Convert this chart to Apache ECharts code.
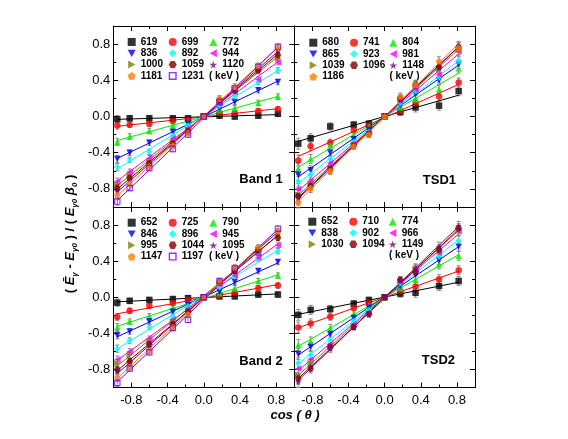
<!DOCTYPE html>
<html>
<head>
<meta charset="utf-8">
<script src="https://cdn.jsdelivr.net/npm/echarts@6/dist/echarts.min.js"></script>
<style>
html, body { margin: 0; padding: 0; background: #fff; }
#chart { width: 568px; height: 439px; }
</style>
</head>
<body>
<div id="chart"></div>
<script>
// ========== 数据 ==========
const cosTheta = [-0.956, -0.819, -0.602, -0.342, -0.174, 0, 0.174, 0.342, 0.602, 0.819];
const bandErr = [0.04, 0.03, 0.03, 0.03, 0.03, 0.02, 0.03, 0.03, 0.03, 0.03];
const tsdErr = [0.06, 0.05, 0.04, 0.03, 0.03, 0.02, 0.04, 0.05, 0.05, 0.05];

const band1Names = ['619', '699', '772', '836', '892', '944', '1000', '1059', '1120', '1181', '1231'];
const band1Y = [
    [-0.03, -0.02, -0.02, -0.02, -0.02, 0.0, 0.01, 0.0, 0.01, 0.03],
    [-0.10, -0.09, -0.08, -0.05, -0.04, 0.0, 0.04, 0.04, 0.06, 0.08],
    [-0.28, -0.22, -0.16, -0.10, -0.06, 0.0, 0.07, 0.09, 0.15, 0.22],
    [-0.47, -0.40, -0.29, -0.17, -0.08, 0.0, 0.09, 0.16, 0.29, 0.38],
    [-0.56, -0.48, -0.39, -0.21, -0.10, 0.0, 0.12, 0.22, 0.38, 0.51],
    [-0.72, -0.61, -0.46, -0.24, -0.13, 0.0, 0.15, 0.27, 0.41, 0.60],
    [-0.75, -0.65, -0.50, -0.28, -0.15, 0.0, 0.16, 0.30, 0.50, 0.64],
    [-0.79, -0.68, -0.52, -0.30, -0.16, 0.0, 0.18, 0.29, 0.51, 0.68],
    [-0.82, -0.70, -0.54, -0.31, -0.17, 0.0, 0.17, 0.31, 0.53, 0.72],
    [-0.87, -0.74, -0.55, -0.32, -0.18, 0.0, 0.20, 0.33, 0.56, 0.76],
    [-0.94, -0.79, -0.57, -0.36, -0.20, 0.0, 0.16, 0.31, 0.55, 0.77]
];

const tsd1Names = ['680', '741', '804', '865', '923', '981', '1039', '1096', '1148', '1186'];
const tsd1Y = [
    [-0.30, -0.24, -0.11, -0.09, -0.08, 0.0, 0.05, 0.10, 0.12, 0.28],
    [-0.485, -0.33, -0.29, -0.15, -0.10, 0.0, 0.06, 0.15, 0.22, 0.375],
    [-0.58, -0.47, -0.32, -0.20, -0.11, 0.0, 0.10, 0.19, 0.30, 0.53],
    [-0.645, -0.595, -0.40, -0.25, -0.15, 0.0, 0.13, 0.25, 0.40, 0.58],
    [-0.72, -0.645, -0.47, -0.28, -0.17, 0.0, 0.15, 0.28, 0.43, 0.61],
    [-0.80, -0.72, -0.515, -0.30, -0.18, 0.0, 0.17, 0.30, 0.46, 0.72],
    [-0.865, -0.74, -0.57, -0.31, -0.19, 0.0, 0.19, 0.34, 0.52, 0.735],
    [-0.88, -0.77, -0.58, -0.32, -0.19, 0.0, 0.20, 0.35, 0.55, 0.765],
    [-0.90, -0.76, -0.59, -0.33, -0.20, 0.0, 0.18, 0.33, 0.54, 0.78],
    [-0.95, -0.79, -0.60, -0.33, -0.20, 0.0, 0.22, 0.35, 0.61, 0.76]
];

const band2Names = ['652', '725', '790', '846', '896', '945', '995', '1044', '1095', '1147', '1197'];
const band2Y = [
    [-0.06, -0.04, -0.03, -0.02, -0.01, 0.0, 0.01, 0.01, 0.03, 0.03],
    [-0.22, -0.15, -0.095, -0.065, -0.03, 0.0, 0.02, 0.05, 0.10, 0.13],
    [-0.33, -0.27, -0.21, -0.12, -0.08, 0.0, 0.045, 0.10, 0.18, 0.24],
    [-0.42, -0.38, -0.27, -0.16, -0.09, 0.0, 0.06, 0.17, 0.29, 0.39],
    [-0.57, -0.48, -0.33, -0.21, -0.10, 0.0, 0.11, 0.23, 0.43, 0.51],
    [-0.69, -0.60, -0.46, -0.25, -0.13, 0.0, 0.14, 0.24, 0.44, 0.58],
    [-0.73, -0.64, -0.49, -0.27, -0.15, 0.0, 0.16, 0.30, 0.53, 0.69],
    [-0.80, -0.71, -0.52, -0.30, -0.16, 0.0, 0.16, 0.29, 0.52, 0.66],
    [-0.82, -0.73, -0.55, -0.31, -0.18, 0.0, 0.17, 0.31, 0.55, 0.71],
    [-0.89, -0.77, -0.59, -0.33, -0.19, 0.0, 0.17, 0.33, 0.55, 0.73],
    [-0.95, -0.79, -0.61, -0.34, -0.25, 0.0, 0.18, 0.32, 0.50, 0.76]
];

const tsd2Names = ['652', '710', '774', '838', '902', '966', '1030', '1094', '1149'];
const tsd2Y = [
    [-0.195, -0.14, -0.13, -0.07, -0.03, 0.0, 0.04, 0.05, 0.125, 0.18],
    [-0.335, -0.29, -0.215, -0.12, -0.065, 0.0, 0.07, 0.12, 0.20, 0.30],
    [-0.53, -0.49, -0.34, -0.18, -0.09, 0.0, 0.10, 0.19, 0.365, 0.46],
    [-0.63, -0.55, -0.41, -0.23, -0.115, 0.0, 0.125, 0.25, 0.41, 0.56],
    [-0.73, -0.64, -0.47, -0.26, -0.14, 0.0, 0.155, 0.29, 0.45, 0.63],
    [-0.79, -0.69, -0.52, -0.30, -0.17, 0.0, 0.17, 0.30, 0.49, 0.73],
    [-0.86, -0.73, -0.55, -0.32, -0.18, 0.0, 0.18, 0.31, 0.525, 0.75],
    [-0.90, -0.79, -0.55, -0.33, -0.185, 0.0, 0.19, 0.285, 0.53, 0.765],
    [-0.94, -0.77, -0.57, -0.33, -0.19, 0.0, 0.19, 0.32, 0.56, 0.79]
];

const majorTicks = [-0.8, -0.4, 0, 0.4, 0.8];
const minorTicks = [-0.6, -0.2, 0.2, 0.6];

// ========== 样式 ==========
const FONT = 'Liberation Sans, Arial, sans-serif';
const STAR = 'path://M50,0 L61,35 L98,35 L68,57 L79,91 L50,70 L21,91 L32,57 L2,35 L39,35 Z';
const PENT = 'path://M50,0 L98,36 L80,95 L20,95 L2,36 Z';
const HEX = 'path://M25,4 L75,4 L100,50 L75,96 L25,96 L0,50 Z';
const TRI_DOWN = 'path://M0,0 L100,0 L50,90 Z';
const TRI_LEFT = 'path://M0,50 L90,0 L90,100 Z';
const TRI_RIGHT = 'path://M0,0 L90,50 L0,100 Z';
const OPEN_SQ = 'path://M0,0 L100,0 L100,100 L0,100 Z M18,18 L18,82 L82,82 L82,18 Z';
const MARKERS = [
    { symbol: 'rect', color: '#000000' },
    { symbol: 'circle', color: '#FF0000' },
    { symbol: 'triangle', color: '#00F000' },
    { symbol: TRI_DOWN, color: '#0000FF' },
    { symbol: 'diamond', color: '#00FFFF' },
    { symbol: TRI_LEFT, color: '#FF00FF' },
    { symbol: TRI_RIGHT, color: '#808000' },
    { symbol: HEX, color: '#800000' },
    { symbol: STAR, color: '#800080' },
    { symbol: PENT, color: '#FF8000' },
    { symbol: OPEN_SQ, color: '#8000FF' }
];

// 四个面板的位置（像素）
const panels = [
    { key: 'b1', names: band1Names, ys: band1Y, err: bandErr, label: 'Band 1',
      grid: { left: 113.3, top: 26, width: 181, height: 181 },
      legendCols: [131.7, 172.7, 213.3], legendTop: 42, kev: [209, 76], labelPos: [282.7, 179],
      xLabels: false, yLabels: true },
    { key: 't1', names: tsd1Names, ys: tsd1Y, err: tsdErr, label: 'TSD1',
      grid: { left: 294.3, top: 26, width: 180.7, height: 181 },
      legendCols: [313.3, 354, 393.3], legendTop: 42.7, kev: [389.5, 76.7], labelPos: [456, 180.5],
      xLabels: false, yLabels: false },
    { key: 'b2', names: band2Names, ys: band2Y, err: bandErr, label: 'Band 2',
      grid: { left: 113.3, top: 207, width: 181, height: 180.5 },
      legendCols: [131.7, 172.7, 213.3], legendTop: 222.7, kev: [209, 256], labelPos: [282.7, 361],
      xLabels: true, yLabels: true },
    { key: 't2', names: tsd2Names, ys: tsd2Y, err: tsdErr, label: 'TSD2',
      grid: { left: 294.3, top: 207, width: 180.7, height: 180.5 },
      legendCols: [312.3, 353.3, 392.7], legendTop: 221.7, kev: [389, 255.7], labelPos: [455, 360.5],
      xLabels: true, yLabels: false }
];

// 最小二乘拟合
function fitLine(xs, ys) {
    const n = xs.length;
    let sx = 0, sy = 0, sxx = 0, sxy = 0;
    for (let i = 0; i < n; i++) {
        sx += xs[i]; sy += ys[i]; sxx += xs[i] * xs[i]; sxy += xs[i] * ys[i];
    }
    const b = (n * sxy - sx * sy) / (n * sxx - sx * sx);
    const a = (sy - b * sx) / n;
    const x0 = xs[0], x1 = xs[n - 1];
    return [[x0, a + b * x0], [x1, a + b * x1]];
}

function makeAxis(gi, dim, position, ticks, len, showLine, showLabels) {
    return {
        gridIndex: gi,
        type: 'value',
        position: position,
        min: -1,
        max: 1,
        axisLine: { show: showLine, onZero: false, lineStyle: { color: '#000', width: 1 } },
        axisTick: { show: true, inside: true, length: len, customValues: ticks, lineStyle: { color: '#000', width: 1 } },
        axisLabel: {
            show: showLabels,
            customValues: majorTicks,
            formatter: v => v.toFixed(1),
            color: '#000',
            fontFamily: FONT,
            fontSize: 13,
            margin: dim === 'x' ? 6 : 3
        },
        splitLine: { show: false }
    };
}

const grids = [], xAxes = [], yAxes = [], series = [], legends = [], graphics = [];

panels.forEach((p, gi) => {
    grids.push(p.grid);
    // 顺序: 下(主), 上(主), 下(次)->顶部, 上(次)->底部
    xAxes.push(makeAxis(gi, 'x', 'bottom', majorTicks, 5, true, p.xLabels));
    xAxes.push(makeAxis(gi, 'x', 'top', majorTicks, 5, true, false));
    xAxes.push(makeAxis(gi, 'x', 'bottom', minorTicks, 3, false, false));
    xAxes.push(makeAxis(gi, 'x', 'top', minorTicks, 3, false, false));
    yAxes.push(makeAxis(gi, 'y', 'left', majorTicks, 5, true, p.yLabels));
    yAxes.push(makeAxis(gi, 'y', 'right', majorTicks, 5, true, false));
    yAxes.push(makeAxis(gi, 'y', 'left', minorTicks, 3, false, false));
    yAxes.push(makeAxis(gi, 'y', 'right', minorTicks, 3, false, false));

    const axIdx = { xAxisIndex: 4 * gi, yAxisIndex: 4 * gi };

    // 误差棒
    const errData = [];
    p.ys.forEach(ys => ys.forEach((y, j) => errData.push([cosTheta[j], y, p.err[j]])));
    series.push(Object.assign({
        type: 'custom',
        silent: true,
        z: 1,
        data: errData,
        renderItem: function (params, api) {
            const x = api.value(0), y = api.value(1), e = api.value(2);
            const top = api.coord([x, y + e]);
            const bot = api.coord([x, y - e]);
            const w = 2;
            const st = { stroke: '#8a8a8a', lineWidth: 1 };
            return {
                type: 'group',
                children: [
                    { type: 'line', shape: { x1: top[0], y1: top[1], x2: bot[0], y2: bot[1] }, style: st },
                    { type: 'line', shape: { x1: top[0] - w, y1: top[1], x2: top[0] + w, y2: top[1] }, style: st },
                    { type: 'line', shape: { x1: bot[0] - w, y1: bot[1], x2: bot[0] + w, y2: bot[1] }, style: st }
                ]
            };
        }
    }, axIdx));

    // 拟合直线 + 数据点
    p.names.forEach((name, i) => {
        const m = MARKERS[i];
        series.push(Object.assign({
            name: 'fit-' + p.key + '-' + name,
            type: 'line',
            silent: true,
            showSymbol: false,
            z: 2,
            data: fitLine(cosTheta, p.ys[i]),
            lineStyle: { color: m.color, width: 1 }
        }, axIdx));
    });
    p.names.forEach((name, i) => {
        const m = MARKERS[i];
        series.push(Object.assign({
            name: p.key + '|' + name,
            type: 'scatter',
            z: 3,
            symbol: m.symbol,
            symbolSize: 6.5,
            itemStyle: { color: m.color },
            data: cosTheta.map((x, j) => [x, p.ys[i][j]])
        }, axIdx));
    });

    // 图例：每列一个竖排图例
    for (let c = 0; c < 3; c++) {
        legends.push({
            orient: 'vertical',
            left: p.legendCols[c] - 4,
            top: p.legendTop - 5.65,
            padding: 0,
            itemGap: 0,
            itemWidth: 8,
            itemHeight: 8,
            selectedMode: false,
            formatter: n => n.split('|')[1],
            textStyle: { color: '#000', fontFamily: FONT, fontWeight: 'bold', fontSize: 10, lineHeight: 11.3 },
            data: p.names.filter((_, i) => i % 3 === c).map(n => p.key + '|' + n)
        });
    }

    graphics.push({
        type: 'text', x: p.kev[0], y: p.kev[1],
        style: { text: '( keV )', font: 'bold 10px ' + FONT, fill: '#000', align: 'left', verticalAlign: 'middle' }
    });
    graphics.push({
        type: 'text', x: p.labelPos[0], y: p.labelPos[1],
        style: { text: p.label, font: 'bold 13px ' + FONT, fill: '#000', align: 'right', verticalAlign: 'middle' }
    });
});

// 坐标轴标题
graphics.push({
    type: 'text', x: 295, y: 415,
    style: { text: 'cos ( θ )', font: 'italic bold 13px ' + FONT, fill: '#000', align: 'center', verticalAlign: 'middle' }
});
graphics.push({
    type: 'text', x: 70, y: 234, rotation: Math.PI / 2,
    style: {
        text: '{p|( }{e|Ē}{s|γ}{p| - }{e|E}{s|γ0}{p| ) / ( }{e|E}{s|γ0}{e| β}{s|0}{p| )}',
        align: 'center',
        verticalAlign: 'middle',
        rich: {
            p: { fontFamily: FONT, fontWeight: 'bold', fontSize: 13, color: '#000', lineHeight: 17 },
            e: { fontFamily: FONT, fontWeight: 'bold', fontStyle: 'italic', fontSize: 13, color: '#000', lineHeight: 17 },
            s: { fontFamily: FONT, fontWeight: 'bold', fontStyle: 'italic', fontSize: 8, color: '#000', verticalAlign: 'bottom', lineHeight: 11 }
        }
    }
});

const chart = echarts.init(document.getElementById('chart'), null, { renderer: 'canvas' });
chart.setOption({
    animation: false,
    backgroundColor: '#fff',
    grid: grids,
    xAxis: xAxes,
    yAxis: yAxes,
    legend: legends,
    graphic: graphics,
    series: series
});
</script>
</body>
</html>
